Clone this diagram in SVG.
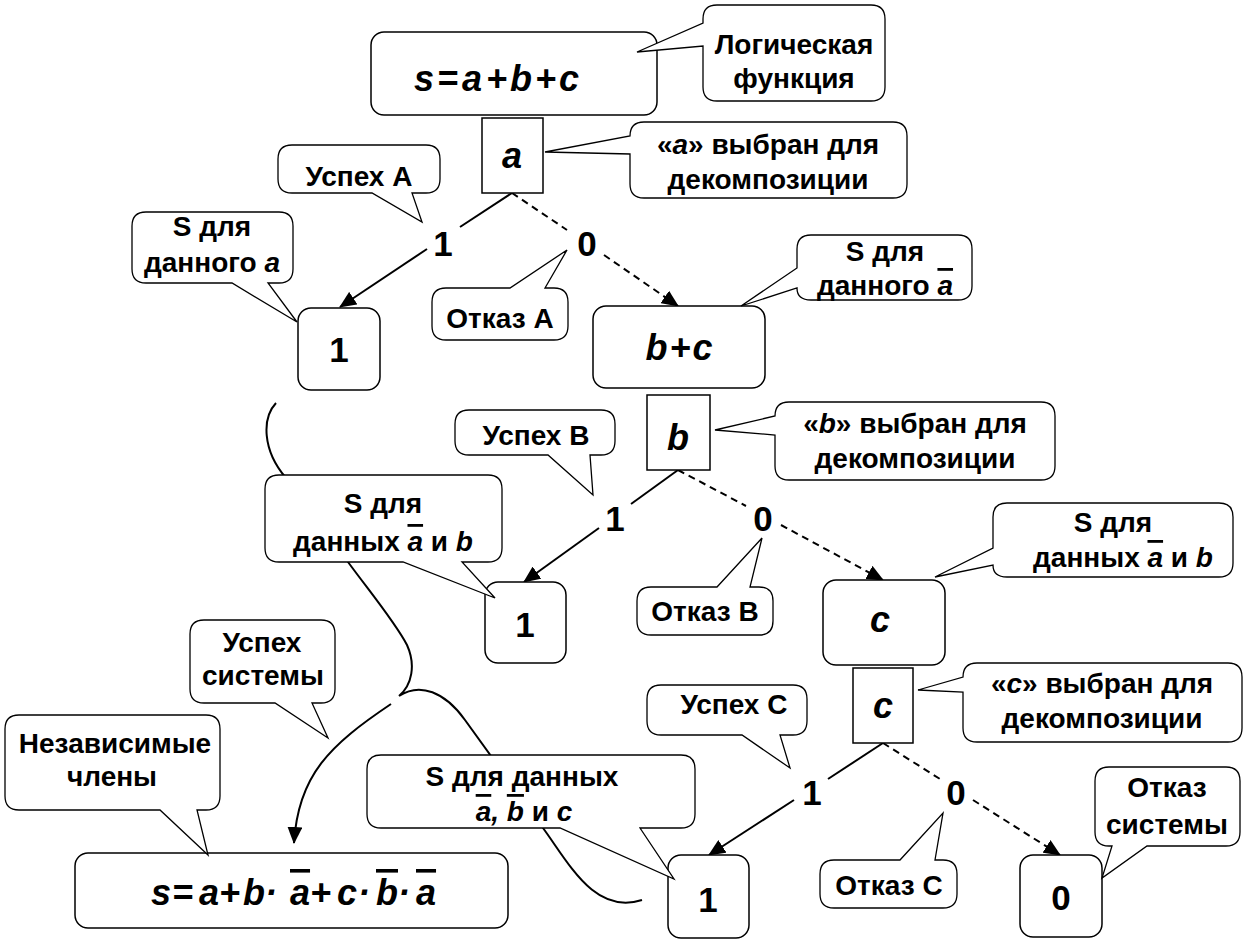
<svg xmlns="http://www.w3.org/2000/svg" width="1246" height="944" viewBox="0 0 1246 944">
<style>
.bx{fill:#fff;stroke:#000;stroke-width:1.5}
.cl{fill:#fff;stroke:#000;stroke-width:1.3}
.t{font-family:"Liberation Sans",Arial,sans-serif;font-size:28px;font-weight:bold;text-anchor:middle;fill:#000}
.fm{font-family:"Liberation Sans",Arial,sans-serif;font-size:36px;font-weight:bold;font-style:italic;fill:#000}
.dg{font-family:"Liberation Sans",Arial,sans-serif;font-size:35px;font-weight:bold;text-anchor:middle;fill:#000}
.i{font-style:italic}
.ov{text-decoration:overline}
.e{stroke:#000;stroke-width:2;fill:none}
.ds{stroke-dasharray:7 5}
</style>
<defs>
<marker id="ah" markerUnits="userSpaceOnUse" markerWidth="17" markerHeight="15" viewBox="0 0 17 15" refX="16" refY="7.5" orient="auto">
<path d="M0,0 L17,7.5 L0,15 Z" fill="#000"/>
</marker>
</defs>

<g id="connectors">
<path class="e" d="M276,403 C262,418 262,450 286,478 L348,562 C370,592 395,622 407,645 C416,665 412,685 399,696 C420,682 445,692 465,720 L543,828 C570,865 595,915 642,900"/>
<path class="e" d="M391,704 C330,745 298,775 294,843" marker-end="url(#ah)"/>
<path class="e" d="M512,193 L460,227"/>
<path class="e" d="M427,249 L340,307" marker-end="url(#ah)"/>
<path class="e ds" d="M512,193 L567,230"/>
<path class="e ds" d="M604,255 L678,306" marker-end="url(#ah)"/>
<path class="e" d="M678,470 L631,504"/>
<path class="e" d="M599,528 L524,582" marker-end="url(#ah)"/>
<path class="e ds" d="M678,470 L746,506"/>
<path class="e ds" d="M781,525 L883,580" marker-end="url(#ah)"/>
<path class="e" d="M883,743 L828,779"/>
<path class="e" d="M794,800 L709,855" marker-end="url(#ah)"/>
<path class="e ds" d="M883,743 L940,779"/>
<path class="e ds" d="M973,800 L1060,855" marker-end="url(#ah)"/>
<text class="dg" x="443" y="256">1</text>
<text class="dg" x="587" y="256">0</text>
<text class="dg" x="615" y="531">1</text>
<text class="dg" x="763" y="531">0</text>
<text class="dg" x="812" y="805">1</text>
<text class="dg" x="956" y="805">0</text>
</g>

<g id="f1"><rect class="bx" x="371" y="32" width="286" height="83" rx="13"/>
<text class="fm" x="414 437 462 486 510 535 559" y="91">s=a+b+c</text></g>
<g id="da"><rect class="bx" x="482" y="118" width="61" height="75"/>
<text class="fm" x="512" y="168" text-anchor="middle">a</text></g>
<g id="n1a"><rect class="bx" x="298" y="308" width="82" height="82" rx="13"/>
<text class="dg" x="339" y="362">1</text></g>
<g id="nbc"><rect class="bx" x="593" y="306" width="172" height="82" rx="13"/>
<text class="fm" x="680" y="360" text-anchor="middle" letter-spacing="2">b+c</text></g>
<g id="db"><rect class="bx" x="647" y="395" width="63" height="75"/>
<text class="fm" x="678" y="450" text-anchor="middle">b</text></g>
<g id="n1b"><rect class="bx" x="485" y="582" width="81" height="81" rx="13"/>
<text class="dg" x="525" y="637">1</text></g>
<g id="nc"><rect class="bx" x="823" y="580" width="122" height="85" rx="13"/>
<text class="fm" x="880" y="632" text-anchor="middle">c</text></g>
<g id="dc"><rect class="bx" x="853" y="668" width="60" height="75"/>
<text class="fm" x="883" y="718" text-anchor="middle">c</text></g>
<g id="n1c"><rect class="bx" x="668" y="855" width="81" height="83" rx="13"/>
<text class="dg" x="708" y="912">1</text></g>
<g id="n0"><rect class="bx" x="1020" y="855" width="82" height="82" rx="13"/>
<text class="dg" x="1061" y="910">0</text></g>
<g id="f2"><rect class="bx" x="75" y="853" width="433" height="75" rx="13"/>
<text class="fm" y="905"><tspan x="151">s</tspan><tspan x="172">=</tspan><tspan x="199">a</tspan><tspan x="219">+</tspan><tspan x="243">b</tspan><tspan x="265">·</tspan><tspan x="290" class="ov">a</tspan><tspan x="310">+</tspan><tspan x="337">c</tspan><tspan x="358">·</tspan><tspan x="376" class="ov">b</tspan><tspan x="398">·</tspan><tspan x="416" class="ov">a</tspan></text></g>

<g id="c-logic"><path class="cl" d="M717,5 H871 Q885,5 885,19 V87 Q885,101 871,101 H717 Q703,101 703,87 V46 L637,52 L703,23 V19 Q703,5 717,5 Z"/>
<text class="t" x="794" y="54">Логическая</text><text class="t" x="794" y="88">функция</text></g>
<g id="c-sel-a"><path class="cl" d="M644,122 H893 Q907,122 907,136 V184 Q907,198 893,198 H644 Q630,198 630,184 V154 L545,152 L630,136 Q630,122 644,122 Z"/>
<text class="t" x="768" y="154">«<tspan class="i">a</tspan>» выбран для</text><text class="t" x="768" y="189">декомпозиции</text></g>
<g id="c-succ-a"><path class="cl" d="M292,145 H426 Q440,145 440,159 V179 Q440,193 426,193 H412 L422,222 L372,193 H292 Q278,193 278,179 V159 Q278,145 292,145 Z"/>
<text class="t" x="359" y="186">Успех А</text></g>
<g id="c-s-a"><path class="cl" d="M146,212 H279 Q293,212 293,226 V269 Q293,283 279,283 H268 L297,322 L232,283 H146 Q132,283 132,269 V226 Q132,212 146,212 Z"/>
<text class="t" x="212" y="236">S для</text><text class="t" x="212" y="272">данного <tspan class="i">a</tspan></text></g>
<g id="c-fail-a"><path class="cl" d="M446,288 H510 L567,250 L545,288 H554 Q568,288 568,302 V326 Q568,340 554,340 H446 Q432,340 432,326 V302 Q432,288 446,288 Z"/>
<text class="t" x="500" y="328">Отказ А</text></g>
<g id="c-s-na"><path class="cl" d="M811,235 H958 Q972,235 972,249 V286 Q972,300 958,300 H811 Q797,300 797,288 L741,306 L797,268 V249 Q797,235 811,235 Z"/>
<text class="t" x="885" y="261">S для</text><text class="t" x="885" y="295">данного <tspan class="i ov">a</tspan></text></g>
<g id="c-sel-b"><path class="cl" d="M789,402 H1041 Q1055,402 1055,416 V466 Q1055,480 1041,480 H789 Q775,480 775,466 V435 L715,430 L775,416 Q775,402 789,402 Z"/>
<text class="t" x="915" y="433">«<tspan class="i">b</tspan>» выбран для</text><text class="t" x="915" y="468">декомпозиции</text></g>
<g id="c-succ-b"><path class="cl" d="M469,410 H601 Q615,410 615,424 V441 Q615,455 601,455 H590 L593,495 L548,455 H469 Q455,455 455,441 V424 Q455,410 469,410 Z"/>
<text class="t" x="536" y="445">Успех В</text></g>
<g id="c-s-nab-l"><path class="cl" d="M279,475 H488 Q502,475 502,489 V548 Q502,562 488,562 H462 L495,598 L403,562 H279 Q265,562 265,548 V489 Q265,475 279,475 Z"/>
<text class="t" x="383" y="513">S для</text><text class="t" x="383" y="551">данных <tspan class="i ov">a</tspan> и <tspan class="i">b</tspan></text></g>
<g id="c-fail-b"><path class="cl" d="M651,587 H717 L762,538 L750,587 H759 Q773,587 773,601 V621 Q773,635 759,635 H651 Q637,635 637,621 V601 Q637,587 651,587 Z"/>
<text class="t" x="705" y="621">Отказ В</text></g>
<g id="c-s-nab-r"><path class="cl" d="M1007,503 H1219 Q1233,503 1233,517 V563 Q1233,577 1219,577 H1007 Q993,577 993,565 L935,577 L993,548 V517 Q993,503 1007,503 Z"/>
<text class="t" x="1113" y="532">S для</text><text class="t" x="1123" y="567">данных <tspan class="i ov">a</tspan> и <tspan class="i">b</tspan></text></g>
<g id="c-sel-c"><path class="cl" d="M977,663 H1228 Q1242,663 1242,677 V728 Q1242,742 1228,742 H977 Q963,742 963,728 V692 L918,690 L963,677 Q963,663 977,663 Z"/>
<text class="t" x="1102" y="693">«<tspan class="i">c</tspan>» выбран для</text><text class="t" x="1102" y="728">декомпозиции</text></g>
<g id="c-succ-c"><path class="cl" d="M661,685 H793 Q807,685 807,699 V721 Q807,735 793,735 H780 L790,768 L742,735 H661 Q647,735 647,721 V699 Q647,685 661,685 Z"/>
<text class="t" x="734" y="714">Успех С</text></g>
<g id="c-fail-c"><path class="cl" d="M834,860 H900 L943,813 L935,860 H943 Q957,860 957,874 V894 Q957,908 943,908 H834 Q820,908 820,894 V874 Q820,860 834,860 Z"/>
<text class="t" x="889" y="895">Отказ С</text></g>
<g id="c-sys-fail"><path class="cl" d="M1109,767 H1226 Q1240,767 1240,781 V832 Q1240,846 1226,846 H1147 L1102,878 L1112,846 H1109 Q1095,846 1095,832 V781 Q1095,767 1109,767 Z"/>
<text class="t" x="1167" y="797">Отказ</text><text class="t" x="1167" y="834">системы</text></g>
<g id="c-s-nabc"><path class="cl" d="M381,755 H681 Q695,755 695,769 V814 Q695,828 681,828 H640 L674,879 L560,828 H381 Q367,828 367,814 V769 Q367,755 381,755 Z"/>
<text class="t" x="522" y="786">S для данных</text><text class="t" x="524" y="821"><tspan class="i ov">a</tspan><tspan class="i">,</tspan> <tspan class="i ov">b</tspan> и <tspan class="i">c</tspan></text></g>
<g id="c-sys-succ"><path class="cl" d="M204,620 H321 Q335,620 335,634 V689 Q335,703 321,703 H312 L328,738 L275,703 H204 Q190,703 190,689 V634 Q190,620 204,620 Z"/>
<text class="t" x="262" y="652">Успех</text><text class="t" x="263" y="685">системы</text></g>
<g id="c-indep"><path class="cl" d="M19,715 H206 Q220,715 220,729 V796 Q220,810 206,810 H197 L208,855 L160,810 H19 Q5,810 5,796 V729 Q5,715 19,715 Z"/>
<text class="t" x="115" y="753">Независимые</text><text class="t" x="112" y="786">члены</text></g>
</svg>
